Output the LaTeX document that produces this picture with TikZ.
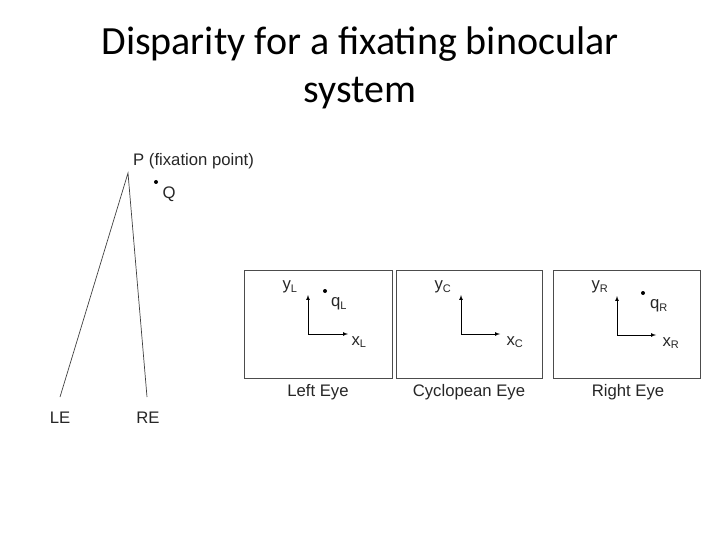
\documentclass[tikz,border=0pt]{standalone}
\usepackage{fontspec}
\setmainfont{Liberation Sans}
\newfontfamily\titlefont{Carlito}
\newcommand{\sbs}[1]{\textsubscript{\fontsize{11}{11}\selectfont #1}}
\begin{document}
\begin{tikzpicture}[x=1pt,y=-1pt,
  lbl/.style={font=\fontsize{16.7}{19}\selectfont,inner sep=0pt,text=black!85},
  frame/.style={draw=black!70,line width=0.8pt},
  ax/.style={-latex,line width=0.7pt},
  dotp/.style={circle,fill=black,inner sep=0pt,minimum size=4pt}]
\useasboundingbox (0,0) rectangle (720,540);
\node[font=\titlefont\fontsize{40}{48}\selectfont,align=center] (title) at (360,68) {Disparity for a fixating binocular\\system};
% rays
\coordinate (P) at (128,173);
\coordinate (LEp) at (60,397);
\coordinate (REp) at (147,397);
\draw[line width=0.7pt,black!75] (LEp) -- (P) -- (REp);
\node[lbl,anchor=west] (Ptext) at (133,161) {P (fixation point)};
\node[dotp] (Qd) at (156,182) {};
\node[lbl] (Qt) at (169,194) {Q};
\node[lbl] (LE) at (60,418) {LE};
\node[lbl] (RE) at (148,418) {RE};
% boxes
\node[frame,minimum width=148pt,minimum height=108pt,inner sep=0pt] (b1) at (318,324) {};
\node[frame,minimum width=146pt,minimum height=108pt,inner sep=0pt] (b2) at (469,324) {};
\node[frame,minimum width=147pt,minimum height=108pt,inner sep=0pt] (b3) at (626.5,324) {};
\node[lbl] (l1) at (318,392) {Left Eye};
\node[lbl] (l2) at (469,392) {Cyclopean Eye};
\node[lbl] (l3) at (628,392) {Right Eye};
% box1 axes
\coordinate (o1) at (308,334);
\coordinate (y1) at (308,295);
\coordinate (x1) at (348,334);
\draw[ax] (o1) -- (y1); \draw[ax] (o1) -- (x1);
\node[lbl] (yL) at (290,287) {y\sbs{L}};
\node[dotp] (qLd) at (325,291) {};
\node[lbl] (qL) at (339,304) {q\sbs{L}};
\node[lbl] (xL) at (359,342) {x\sbs{L}};
% box2 axes
\coordinate (o2) at (461,334);
\coordinate (y2) at (461,295);
\coordinate (x2) at (500,334);
\draw[ax] (o2) -- (y2); \draw[ax] (o2) -- (x2);
\node[lbl] (yC) at (443,287) {y\sbs{C}};
\node[lbl] (xC) at (515,342) {x\sbs{C}};
% box3 axes
\coordinate (o3) at (617,335);
\coordinate (y3) at (617,296);
\coordinate (x3) at (656,335);
\draw[ax] (o3) -- (y3); \draw[ax] (o3) -- (x3);
\node[lbl] (yR) at (600,287) {y\sbs{R}};
\node[dotp] (qRd) at (643,293) {};
\node[lbl] (qR) at (659,306) {q\sbs{R}};
\node[lbl] (xR) at (671,343) {x\sbs{R}};
\end{tikzpicture}
\end{document}
